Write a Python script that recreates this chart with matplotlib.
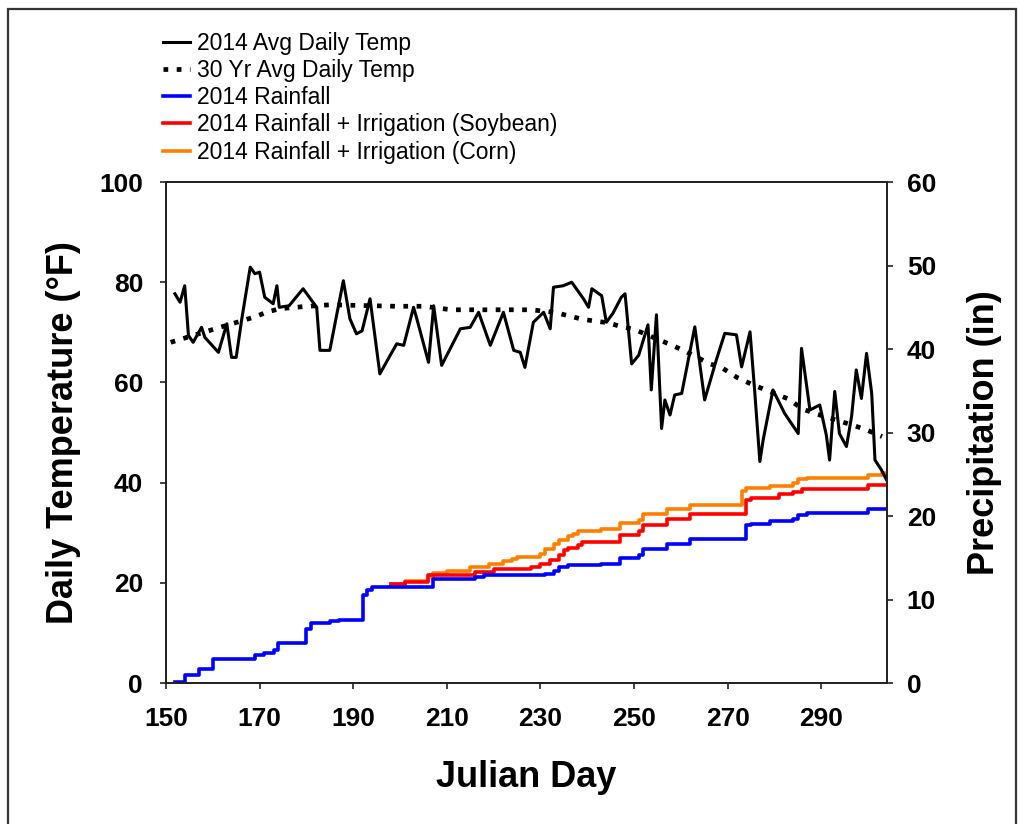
import matplotlib
matplotlib.use('Agg')
import matplotlib.pyplot as plt
from matplotlib.lines import Line2D
from matplotlib.patches import Rectangle

plt.rcParams['font.family'] = ['Liberation Sans', 'DejaVu Sans']

# ---------------- data ----------------
temp_days = [151.9, 153, 154, 154.8, 155.8, 157.6, 158.3, 161.2, 163, 164, 165, 166.2,
             168, 169, 170, 171.1, 172.9, 173.7, 174.2, 176.3, 179.3, 182.2, 182.9, 185,
             187.9, 189.3, 190.7, 191.9, 193.6, 195.7, 197.9, 199.3, 200.8, 202.9, 203.6,
             206.1, 207.2, 208.9, 211.1, 212.9, 215, 216.8, 219.3, 222.1, 224.3, 225.7,
             226.7, 228.5, 230.7, 232.1, 232.8, 234.9, 236.7, 239.2, 240.3, 241, 243.1,
             244.1, 245.5, 247.3, 248.1, 249.5, 251, 253, 253.7, 254.8, 255.9, 256.6,
             257.7, 258.7, 260.2, 263, 265.1, 267.6, 269.4, 271.9, 273, 274.8, 275.8,
             276.9, 277.6, 279.7, 282.2, 285.1, 285.8, 287.6, 289.7, 291.1, 291.8, 292.9,
             293.9, 295.4, 296.5, 297.5, 298.6, 299.7, 300.8, 301.5, 302.9, 304]
temp_2014 = [77.7, 76, 79.3, 69.4, 68, 71, 69, 66, 71.7, 65, 65, 72.7,
             83, 81.7, 82, 77, 75.7, 79.3, 75, 75.3, 78.7, 75, 66.4, 66.4,
             80.3, 72.7, 69.7, 70.3, 76.7, 61.7, 65.4, 67.7, 67.4, 75, 72.7,
             64, 75.3, 63.4, 67.4, 70.7, 71, 74, 67.4, 74, 66.4, 66,
             63, 72, 74, 70.7, 79, 79.3, 80, 76.7, 75, 78.7, 77.3,
             72, 73.8, 77, 77.7, 63.7, 65.4, 71.5, 58.5, 73.5, 50.8, 56.5,
             53.5, 57.5, 57.8, 71.1, 56.5, 64.5, 69.8, 69.5, 63.1, 70.1, 58.2,
             44.2, 48.5, 58.5, 53.8, 49.8, 66.8, 54.5, 55.5, 49.5, 44.5, 58.2,
             49.8, 47.2, 53.2, 62.5, 56.8, 65.8, 57.8, 44.5, 42.5, 40.5]

norm_days = [151, 160.5, 168.7, 171.5, 174.2, 179, 185, 199, 205, 211, 219, 228, 233,
             236, 239, 242, 244.5, 247, 250, 257.7, 261, 266, 269, 272, 275, 277.6,
             283, 286, 289, 297, 300, 303]
temp_30yr = [68, 70.7, 73, 74, 74.7, 75.1, 75.5, 75.2, 75.2, 74.5, 74.5, 74.5, 74,
             73.3, 72.6, 72.2, 71.9, 71.2, 70.6, 67.6, 66.2, 63.8, 62.8, 61, 59.7, 58.7,
             56.7, 54.7, 53.7, 51.4, 50.4, 49.2]

rain_days = [152, 154, 157, 160, 169, 171, 173, 174, 180, 181, 185, 187, 192, 193, 194,
             207, 216, 218, 231, 233, 234, 236, 243, 247, 251, 252, 257, 262, 274, 275,
             279, 284, 285, 287, 300, 304]
rain_2014 = [0.1, 0.9, 1.7, 2.9, 3.3, 3.6, 4.0, 4.8, 6.5, 7.2, 7.4, 7.6, 10.5, 11.1, 11.5,
             12.5, 12.7, 12.9, 13.1, 13.4, 13.9, 14.1, 14.3, 15.0, 15.3, 16.0, 16.7, 17.2,
             18.9, 19.1, 19.4, 19.7, 20.1, 20.4, 20.8, 20.8]

soy_days = [198, 201, 206, 216, 220, 228, 230, 232, 234, 235, 236, 238, 239, 247, 251,
            252, 257, 262, 274, 275, 281, 284, 286, 300, 304]
rain_irr_soy = [11.8, 12.05, 12.9, 13.3, 13.6, 13.9, 14.2, 14.7, 15.3, 15.9, 16.2, 16.5,
                16.9, 17.7, 18.2, 18.9, 19.6, 20.3, 21.9, 22.2, 22.6, 22.9, 23.2, 23.7, 23.7]

corn_days = [198, 201, 206, 207, 210, 215, 219, 222, 224, 225, 230, 231, 233, 234, 236,
             237, 238, 243, 247, 251, 252, 257, 262, 273, 274, 279, 284, 285, 287, 300,
             303, 304]
rain_irr_corn = [11.8, 12.2, 12.7, 13.2, 13.4, 13.9, 14.2, 14.6, 14.9, 15.1, 15.5, 16.0,
                 16.7, 17.1, 17.6, 17.9, 18.2, 18.5, 19.2, 19.5, 20.2, 20.8, 21.3, 23.0,
                 23.3, 23.6, 23.9, 24.4, 24.6, 24.9, 25.1, 25.1]

x_ticks = [150, 170, 190, 210, 230, 250, 270, 290]
temp_ticks = [0, 20, 40, 60, 80, 100]
precip_ticks = [0, 10, 20, 30, 40, 50, 60]

labels = ['2014 Avg Daily Temp', '30 Yr Avg Daily Temp', '2014 Rainfall',
          '2014 Rainfall + Irrigation (Soybean)', '2014 Rainfall + Irrigation (Corn)']

# ---------------- figure ----------------
fig = plt.figure(figsize=(10.24, 8.24), dpi=100)
ax = fig.add_axes([0.1621, 0.1711, 0.7038, 0.608])
ax2 = ax.twinx()
ax.set_zorder(ax2.get_zorder() + 1)
ax.patch.set_visible(False)

ORANGE = '#FF8000'
ax2.plot(corn_days, rain_irr_corn, drawstyle='steps-post', color=ORANGE, lw=2.6)
ax2.plot(soy_days, rain_irr_soy, drawstyle='steps-post', color='#FF0000', lw=2.6)
ax2.plot(rain_days, rain_2014, drawstyle='steps-post', color='#0000FF', lw=2.6)

ax.plot(norm_days, temp_30yr, color='black', lw=3.4, linestyle=(0, (1, 1.8)))
ax.plot(temp_days, temp_2014, color='black', lw=2.2)

ax.set_xlim(150, 304)
ax.set_ylim(0, 100)
ax2.set_ylim(0, 60)
ax.set_xticks(x_ticks)
ax.set_yticks(temp_ticks)
ax2.set_yticks(precip_ticks)

for a in (ax, ax2):
    for s in a.spines.values():
        s.set_linewidth(1.3)
        s.set_color('#222222')
    a.tick_params(direction='out', length=4.5, width=1.2, color='#222222', labelsize=19)
    for lab in a.get_xticklabels() + a.get_yticklabels():
        lab.set_fontweight('bold')

ax.tick_params(axis='x', pad=13)
ax.tick_params(axis='y', pad=12)
ax2.tick_params(axis='y', pad=10)

ax.set_xlabel('Julian Day', fontsize=26, fontweight='bold')
ax.xaxis.set_label_coords(0.5, -0.154)
ax.set_ylabel('Daily Temperature (°F)', fontsize=26, fontweight='bold')
ax.yaxis.set_label_coords(-0.118, 0.5)
ax2.set_ylabel('Precipitation (in)', fontsize=26, fontweight='bold', rotation=90)
ax2.yaxis.set_label_coords(1.111, 0.5)

handles = [Line2D([], [], color='black', lw=2.2),
           Line2D([], [], color='black', lw=3.4, linestyle=(0, (1, 1.8))),
           Line2D([], [], color='#0000FF', lw=2.6),
           Line2D([], [], color='#FF0000', lw=2.6),
           Line2D([], [], color=ORANGE, lw=2.6)]
fig.legend(handles, labels, loc='upper left', bbox_to_anchor=(0.1589, 0.9611),
           frameon=False, fontsize=16.5, handlelength=1.2, handletextpad=0.3,
           labelspacing=0.18, borderaxespad=0, borderpad=0)

fig.patches.append(Rectangle((8 / 1024, -0.05), 1008 / 1024, 1.05 - 9 / 824,
                             transform=fig.transFigure, fill=False,
                             edgecolor='#333333', lw=1.6, clip_on=False))

fig.savefig('out.png', dpi=100)
